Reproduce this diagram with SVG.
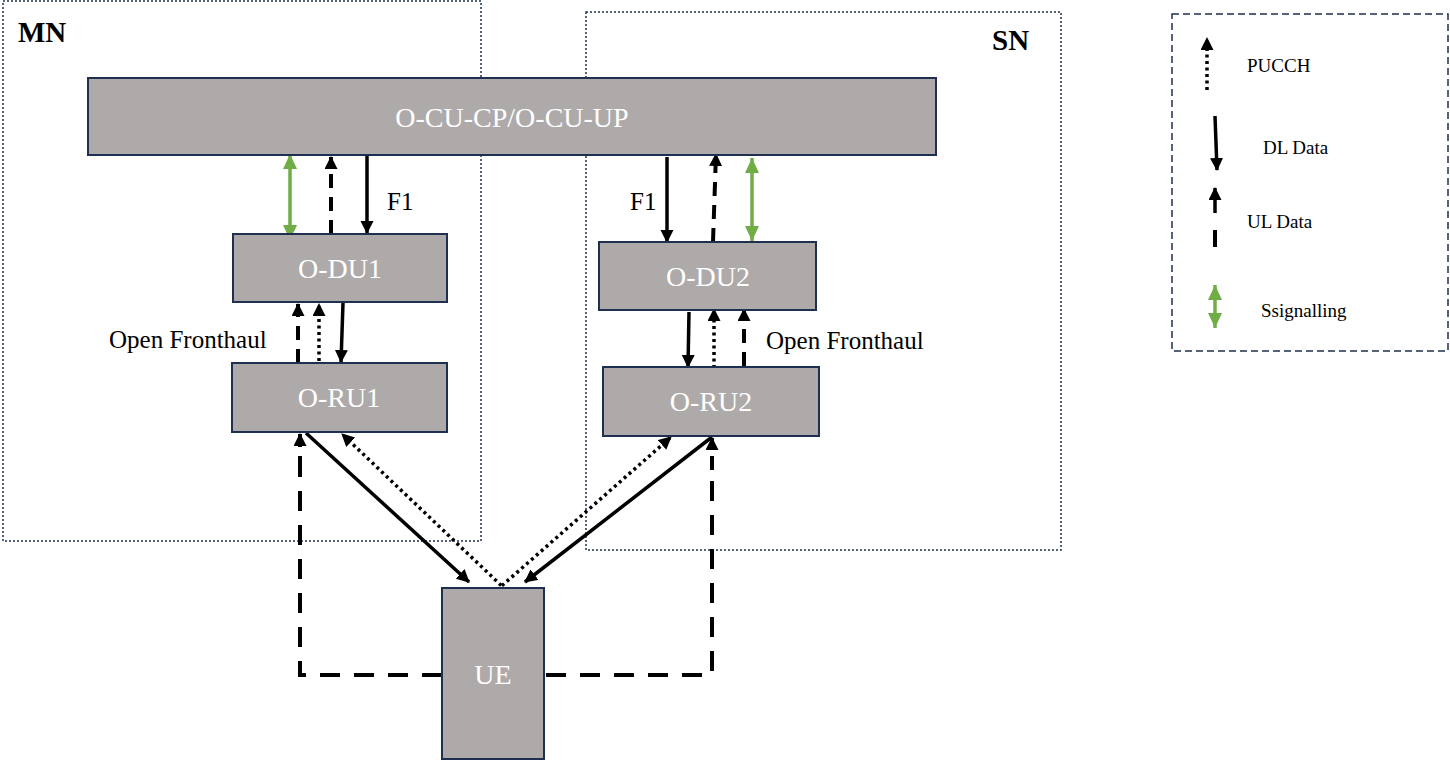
<svg xmlns="http://www.w3.org/2000/svg" width="1450" height="760" viewBox="0 0 1450 760">
<style>
.node{fill:#AEAAAA;stroke:#1F2F4F;stroke-width:2}
.nt{font-family:"Liberation Serif",serif;font-size:28px;fill:#FFFFFF;text-anchor:middle}
.lbl{font-family:"Liberation Serif",serif;font-size:25px;fill:#000}
.big{font-family:"Liberation Serif",serif;font-size:29px;font-weight:bold;fill:#000}
.leg{font-family:"Liberation Serif",serif;font-size:19px;fill:#000}
.area{fill:none;stroke:#1F2F4F;stroke-width:1.5;stroke-dasharray:2 2}
.dl{stroke:#000;stroke-width:3.5;fill:none;marker-end:url(#ah)}
.ul{stroke:#000;stroke-width:4;fill:none;stroke-dasharray:14 9;marker-end:url(#ah)}
.ulw{stroke:#000;stroke-width:4;fill:none;stroke-dasharray:20 14}
.pu{stroke:#000;stroke-width:3.5;fill:none;stroke-dasharray:3 3.5;marker-end:url(#ah)}
.sg{stroke:#70AD47;stroke-width:3.5;fill:none;marker-start:url(#gh);marker-end:url(#gh)}
</style>
<defs>
<marker id="ah" markerUnits="userSpaceOnUse" markerWidth="14" markerHeight="14" refX="12" refY="6.5" orient="auto"><path d="M0,0 L13,6.5 L0,13 Z" fill="#000"/></marker>
<marker id="gh" markerUnits="userSpaceOnUse" markerWidth="16" markerHeight="16" refX="15" refY="7" orient="auto-start-reverse"><path d="M0,0 L15,7 L0,14 Z" fill="#70AD47"/></marker>
</defs>
<g id="areas">
<rect id="mn-area" class="area" x="3" y="1" width="478" height="540"/>
<rect id="sn-area" class="area" x="586" y="12" width="475" height="538"/>
<text class="big" x="18" y="42">MN</text>
<text class="big" x="992" y="50">SN</text>
</g>
<g id="connectors">
<line class="sg" x1="290" y1="154" x2="290" y2="240"/>
<line class="ul" x1="331" y1="234" x2="331" y2="157"/>
<line class="dl" x1="367" y1="156" x2="367" y2="233"/>
<line class="ul" x1="298" y1="363" x2="298" y2="304"/>
<line class="pu" x1="319" y1="361" x2="319" y2="304"/>
<line class="dl" x1="343" y1="303" x2="341" y2="362"/>
<line class="dl" x1="667" y1="157" x2="667" y2="242"/>
<line class="ul" x1="713" y1="242" x2="716" y2="154"/>
<line class="sg" x1="752" y1="158" x2="752" y2="241"/>
<line class="dl" x1="689" y1="312" x2="688" y2="367"/>
<line class="pu" x1="714" y1="368" x2="714" y2="309"/>
<line class="ul" x1="744" y1="366" x2="744" y2="309"/>
<polyline class="ulw" points="442,675 300,675 300,455"/>
<line class="ul" x1="300" y1="470" x2="300" y2="434" stroke-dasharray="36"/>
<polyline class="ulw" points="546,675 712,675 712,462"/>
<line class="ul" x1="712" y1="470" x2="712" y2="438" stroke-dasharray="36"/>
<line class="dl" x1="306" y1="433" x2="469" y2="582"/>
<line class="pu" x1="506" y1="590" x2="342" y2="434"/>
<line class="pu" x1="497" y1="590" x2="671" y2="437"/>
<line class="dl" x1="712" y1="437" x2="525" y2="582"/>
</g>
<g id="labels">
<text class="lbl" x="387" y="210">F1</text>
<text class="lbl" x="630" y="210">F1</text>
<text class="lbl" x="109" y="348">Open Fronthaul</text>
<text class="lbl" x="766" y="349">Open Fronthaul</text>
</g>
<g id="o-cu"><rect class="node" x="88" y="78" width="848" height="77"/><text class="nt" x="512" y="127">O-CU-CP/O-CU-UP</text></g>
<g id="o-du1"><rect class="node" x="233" y="234" width="214" height="68"/><text class="nt" x="340" y="278">O-DU1</text></g>
<g id="o-ru1"><rect class="node" x="232" y="363" width="215" height="69"/><text class="nt" x="339" y="407">O-RU1</text></g>
<g id="o-du2"><rect class="node" x="599" y="242" width="217" height="68"/><text class="nt" x="708" y="286">O-DU2</text></g>
<g id="o-ru2"><rect class="node" x="603" y="367" width="216" height="69"/><text class="nt" x="711" y="411">O-RU2</text></g>
<g id="ue"><rect class="node" x="442" y="588" width="102" height="171"/><text class="nt" x="493" y="684">UE</text></g>
<g id="legend">
<rect x="1172" y="14" width="276" height="337" fill="none" stroke="#1F2F4F" stroke-width="1.5" stroke-dasharray="7 4"/>
<line class="pu" x1="1207" y1="90" x2="1207" y2="38"/>
<text class="leg" x="1247" y="72">PUCCH</text>
<line class="dl" x1="1215" y1="116" x2="1217" y2="170"/>
<text class="leg" x="1263" y="154">DL Data</text>
<line class="dl" x1="1215" y1="213" x2="1215" y2="188"/>
<line x1="1215" y1="230" x2="1215" y2="247" stroke="#000" stroke-width="4"/>
<text class="leg" x="1247" y="228">UL Data</text>
<line class="sg" x1="1215" y1="285" x2="1215" y2="328"/>
<text class="leg" x="1261" y="317" font-size="22">Ssignalling</text>
</g>
</svg>
